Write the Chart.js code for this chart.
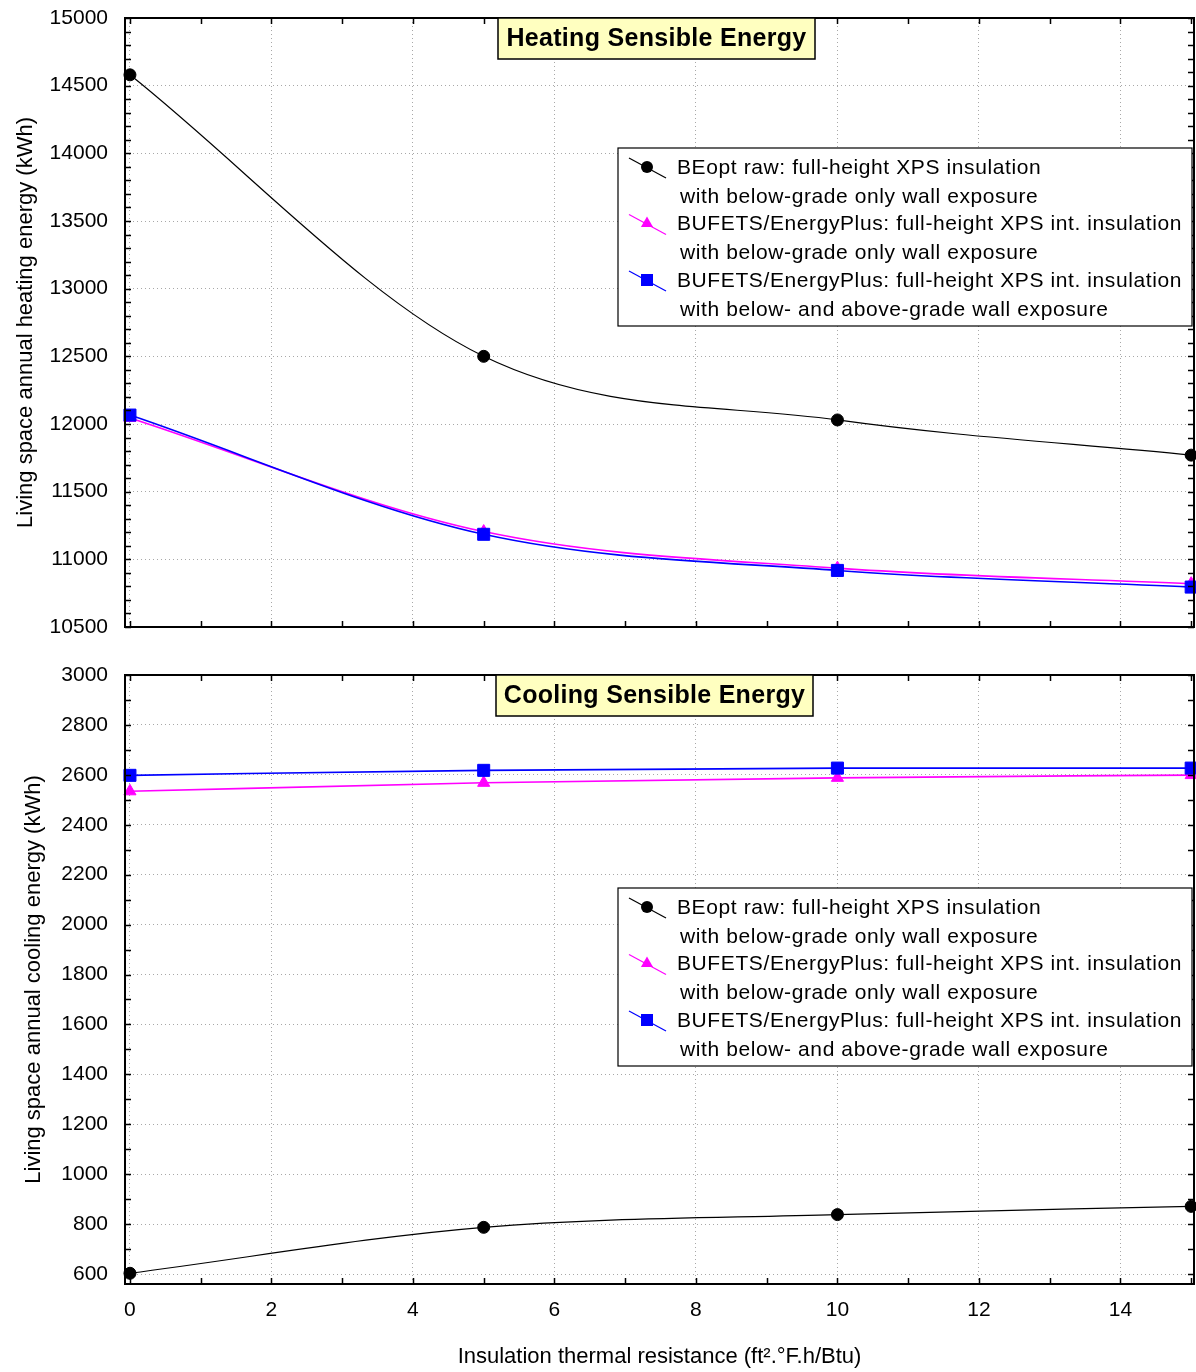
<!DOCTYPE html>
<html>
<head>
<meta charset="utf-8">
<script src="https://cdn.jsdelivr.net/npm/chart.js@4.4.1/dist/chart.umd.min.js"></script>
<style>
  html, body { margin: 0; padding: 0; background: #fff; }
  #wrap { position: relative; width: 1196px; height: 1372px; overflow: hidden; }
  canvas { position: absolute; left: 0; }
</style>
</head>
<body>
<div id="wrap">
  <canvas id="heatChart" width="1196" height="650" style="top:0px"></canvas>
  <canvas id="coolChart" width="1196" height="722" style="top:650px"></canvas>
</div>
<script>
// insulation R-value (ft2.F.h/Btu)
const rValues = [0, 5, 10, 15];

// heating (kWh)
const heatBEopt = [14580, 12500, 12030, 11770];
const heatBelowOnly = [12045, 11205, 10935, 10820];
const heatBelowAbove = [12066, 11185, 10918, 10795];

// cooling (kWh)
const coolBEopt = [603, 787, 838, 871];
const coolBelowOnly = [2534, 2568, 2588, 2599];
const coolBelowAbove = [2598, 2618, 2627, 2627];

// tick labels
const xTicks = [0, 2, 4, 6, 8, 10, 12, 14];
const heatTicks = [10500, 11000, 11500, 12000, 12500, 13000, 13500, 14000, 14500, 15000];
const coolTicks = [600, 800, 1000, 1200, 1400, 1600, 1800, 2000, 2200, 2400, 2600, 2800, 3000];

const seriesNames = [
  ['BEopt raw: full-height XPS insulation', 'with below-grade only wall exposure'],
  ['BUFETS/EnergyPlus: full-height XPS int. insulation', 'with below-grade only wall exposure'],
  ['BUFETS/EnergyPlus: full-height XPS int. insulation', 'with below- and above-grade wall exposure']
];

const FONT = '"Liberation Sans", Arial, sans-serif';
const styles = [
  { color: '#000000', width: 1.2, point: 'circle', radius: 6 },
  { color: '#ff00ff', width: 1.6, point: 'triangle', radius: 7 },
  { color: '#0000ff', width: 1.6, point: 'rect', radius: 8.5 }
];

function toPoints(vals) {
  return rValues.map((x, i) => ({ x: x, y: vals[i] }));
}

function makeDatasets(series) {
  return series.map((vals, i) => ({
    label: seriesNames[i].join(' '),
    data: toPoints(vals),
    borderColor: styles[i].color,
    backgroundColor: styles[i].color,
    borderWidth: styles[i].width,
    pointStyle: styles[i].point,
    pointRadius: styles[i].radius,
    pointBorderWidth: 1,
    cubicInterpolationMode: 'monotone',
    tension: 0.4,
    clip: false,
    order: 2 - i
  }));
}

function drawMarker(ctx, style, x, y) {
  ctx.fillStyle = style.color;
  ctx.strokeStyle = style.color;
  const r = style.radius;
  ctx.beginPath();
  if (style.point === 'circle') {
    ctx.arc(x, y, r, 0, Math.PI * 2);
  } else if (style.point === 'triangle') {
    ctx.moveTo(x, y - r);
    ctx.lineTo(x + r * 0.866, y + r * 0.5);
    ctx.lineTo(x - r * 0.866, y + r * 0.5);
    ctx.closePath();
  } else {
    const s = r * Math.SQRT1_2;
    ctx.rect(x - s, y - s, 2 * s, 2 * s);
  }
  ctx.fill();
}

// box, inward ticks, title box and legend
const framePlugin = {
  id: 'frame',
  afterDatasetsDraw(chart, args, opts) {
    const { ctx, chartArea: a, scales: { x, y } } = chart;
    ctx.save();
    ctx.strokeStyle = '#000';
    ctx.lineWidth = 1.5;
    ctx.beginPath();
    for (let v = 0; v <= 15; v += 1) {
      const px = Math.round(x.getPixelForValue(v)) + 0.5;
      ctx.moveTo(px, a.bottom); ctx.lineTo(px, a.bottom - 6);
      ctx.moveTo(px, a.top); ctx.lineTo(px, a.top + 6);
    }
    for (let v = opts.minorFrom; v <= y.max; v += opts.minorStep) {
      const py = Math.round(y.getPixelForValue(v)) + 0.5;
      ctx.moveTo(a.left, py); ctx.lineTo(a.left + 6, py);
      ctx.moveTo(a.right, py); ctx.lineTo(a.right - 6, py);
    }
    ctx.stroke();
    ctx.lineWidth = 2;
    ctx.strokeRect(a.left, a.top, a.right - a.left, a.bottom - a.top);

    // title box
    const tw = 317, th = 41;
    const tx = opts.titleX;
    ctx.fillStyle = '#ffffc0';
    ctx.fillRect(tx, a.top, tw, th);
    ctx.lineWidth = 1.5;
    ctx.strokeRect(tx, a.top, tw, th);
    ctx.fillStyle = '#000';
    ctx.font = 'bold 25px ' + FONT;
    ctx.letterSpacing = '0.3px';
    ctx.textAlign = 'center';
    ctx.textBaseline = 'middle';
    ctx.fillText(opts.title, tx + tw / 2, a.top + th / 2 + 1);

    // legend
    const lx = 618, ly = opts.legendTop, lw = 574, lh = 178;
    ctx.fillStyle = '#fff';
    ctx.fillRect(lx, ly, lw, lh);
    ctx.lineWidth = 1.2;
    ctx.strokeRect(lx, ly, lw, lh);
    ctx.font = '21px ' + FONT;
    ctx.letterSpacing = '0.6px';
    ctx.textAlign = 'left';
    seriesNames.forEach((lines, i) => {
      const cy = ly + 19 + i * 56.5;
      const st = styles[i];
      ctx.strokeStyle = st.color;
      ctx.lineWidth = 1.2;
      ctx.beginPath();
      ctx.moveTo(629, cy - 9);
      ctx.lineTo(666, cy + 11);
      ctx.stroke();
      drawMarker(ctx, st, 647, cy);
      ctx.fillStyle = '#000';
      ctx.fillText(lines[0], 677, cy + 1);
      ctx.fillText(lines[1], 680, cy + 30);
    });
    ctx.restore();
  }
};

function makeChart(id, series, cfg) {
  return new Chart(document.getElementById(id), {
    type: 'line',
    data: { datasets: makeDatasets(series) },
    options: {
      responsive: false,
      animation: false,
      layout: { autoPadding: false, padding: { top: cfg.padTop, right: 2, left: 0, bottom: 0 } },
      plugins: {
        legend: { display: false },
        tooltip: { enabled: false },
        frame: cfg.frame
      },
      scales: {
        x: {
          type: 'linear',
          min: -0.07,
          max: 15.04,
          afterBuildTicks: s => { s.ticks = xTicks.map(v => ({ value: v })); },
          afterFit: s => { s.height = cfg.xHeight; s.paddingLeft = 0; s.paddingRight = 0; },
          grid: { color: '#a8a8a8', lineWidth: 1, drawTicks: false },
          border: { display: false, dash: [1, 3] },
          ticks: {
            display: cfg.xLabels,
            color: '#000',
            padding: 14,
            maxRotation: 0,
            autoSkip: false,
            font: { family: FONT, size: 21 }
          },
          title: {
            display: cfg.xLabels,
            text: 'Insulation thermal resistance (ft\u00b2.\u00b0F.h/Btu)',
            color: '#000',
            font: { family: FONT, size: 22 },
            padding: { top: 0, bottom: 2 }
          }
        },
        y: {
          min: cfg.yMin,
          max: cfg.yMax,
          afterBuildTicks: s => { s.ticks = cfg.yTicks.map(v => ({ value: v })); },
          afterFit: s => { s.width = 125; s.paddingTop = 0; s.paddingBottom = 0; },
          grid: { color: '#a8a8a8', lineWidth: 1, drawTicks: false },
          border: { display: false, dash: [1, 3] },
          ticks: {
            color: '#000',
            padding: 17,
            autoSkip: false,
            font: { family: FONT, size: 21 },
            callback: v => String(v)
          },
          title: {
            display: true,
            text: cfg.yTitle,
            color: '#000',
            font: { family: FONT, size: 22 },
            padding: { top: cfg.yTitlePad, bottom: 0 }
          }
        }
      }
    },
    plugins: [framePlugin]
  });
}

makeChart('heatChart', [heatBEopt, heatBelowOnly, heatBelowAbove], {
  padTop: 18, xHeight: 23, xLabels: false,
  yMin: 10500, yMax: 15000, yTicks: heatTicks,
  yTitle: 'Living space annual heating energy (kWh)', yTitlePad: 13,
  frame: { title: 'Heating Sensible Energy', titleX: 498, legendTop: 148, minorFrom: 10500, minorStep: 100 }
});

makeChart('coolChart', [coolBEopt, coolBelowOnly, coolBelowAbove], {
  padTop: 25, xHeight: 88, xLabels: true,
  yMin: 560, yMax: 3000, yTicks: coolTicks,
  yTitle: 'Living space annual cooling energy (kWh)', yTitlePad: 21,
  frame: { title: 'Cooling Sensible Energy', titleX: 496, legendTop: 238, minorFrom: 600, minorStep: 100 }
});
</script>
</body>
</html>
